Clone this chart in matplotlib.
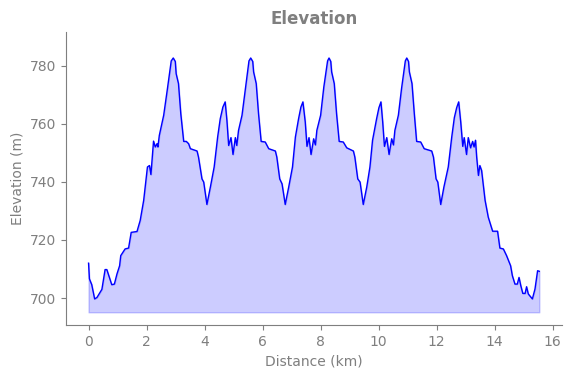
import matplotlib
matplotlib.use("Agg")
import matplotlib.pyplot as plt

# distance (km) and elevation (m)
distance_km = [
    0.0, 0.03, 0.11, 0.21, 0.29, 0.46, 0.57, 0.63, 0.80, 0.89, 0.98, 1.07, 1.11, 1.26, 1.38,
    1.47, 1.67, 1.78, 1.90, 2.03, 2.10, 2.15, 2.18, 2.24, 2.30, 2.36, 2.39, 2.44, 2.59, 2.72,
    2.85, 2.92, 2.99, 3.02, 3.10, 3.18, 3.28, 3.37, 3.45, 3.51, 3.74, 3.79, 3.91, 3.97, 4.08, 4.20,
    4.33, 4.45, 4.54, 4.63, 4.71, 4.77, 4.83, 4.91, 4.98, 5.06, 5.11, 5.17, 5.29, 5.40, 5.53,
    5.59, 5.66, 5.69, 5.78, 5.86, 5.95, 6.09, 6.21, 6.44, 6.49, 6.59, 6.67, 6.78, 6.90, 7.03, 7.13,
    7.24, 7.32, 7.39, 7.47, 7.53, 7.60, 7.67, 7.76, 7.82, 7.87, 8.00, 8.11, 8.24, 8.29, 8.35, 8.38,
    8.47, 8.55, 8.64, 8.78, 8.90, 9.13, 9.18, 9.28, 9.36, 9.47, 9.59, 9.70, 9.79, 9.93, 10.01,
    10.08, 10.14, 10.20, 10.28, 10.36, 10.45, 10.51, 10.56, 10.68, 10.79, 10.92, 10.97, 11.03, 11.06,
    11.15, 11.23, 11.31, 11.45, 11.57, 11.83, 11.89, 11.98, 12.04, 12.14, 12.25, 12.40, 12.52,
    12.61, 12.69, 12.76, 12.83, 12.90, 12.95, 13.03, 13.09, 13.17, 13.24, 13.29, 13.34, 13.38,
    13.44, 13.49, 13.55, 13.67, 13.78, 13.93, 14.10, 14.18, 14.30, 14.41, 14.55, 14.61, 14.70,
    14.78, 14.84, 14.90, 14.97, 15.05, 15.10, 15.16, 15.30, 15.39, 15.48, 15.54,
]
elevation_m = [
    712.0, 706.6, 704.6, 699.7, 700.2, 703.0, 709.8, 709.8, 704.6, 704.8, 708.3, 711.1, 714.6, 716.9, 717.2,
    722.6, 722.9, 726.7, 733.6, 745.1, 745.6, 742.5, 746.2, 754.0, 752.0, 753.1, 752.0, 756.0, 762.9, 772.1,
    781.6, 782.6, 781.4, 777.2, 773.8, 763.4, 753.9, 753.9, 753.1, 751.4, 750.6, 748.5, 741.0, 739.9, 732.2, 738.2,
    745.1, 755.4, 761.7, 765.7, 767.5, 761.1, 752.5, 755.2, 749.4, 755.2, 752.5, 757.7, 762.9, 771.5, 781.6,
    782.6, 781.4, 777.8, 773.8, 763.4, 753.9, 753.7, 751.4, 750.6, 748.5, 741.0, 739.3, 732.2, 738.2, 745.1, 755.4,
    761.7, 765.7, 767.5, 760.6, 752.2, 755.2, 749.4, 754.8, 752.7, 757.7, 762.9, 772.6, 781.6, 782.6, 781.4, 777.8,
    773.8, 763.4, 753.9, 753.7, 751.7, 750.6, 748.5, 741.0, 739.9, 732.2, 738.2, 745.1, 754.3, 761.7, 765.5,
    767.5, 760.6, 752.2, 755.2, 749.4, 754.8, 752.7, 757.7, 762.9, 772.1, 781.6, 782.6, 781.4, 777.8,
    773.8, 763.4, 753.9, 753.7, 751.4, 750.6, 748.5, 741.0, 739.9, 732.2, 738.2, 745.1, 755.4,
    762.1, 765.5, 767.5, 760.6, 752.2, 755.2, 749.4, 755.2, 751.7, 753.9, 752.0, 754.3, 748.5,
    742.2, 745.6, 743.9, 733.6, 727.8, 723.0, 723.0, 717.2, 716.9, 714.6, 711.1, 707.7, 704.8,
    704.8, 707.1, 704.3, 701.6, 701.6, 703.9, 701.4, 699.7, 703.1, 709.4, 709.2,
]
fill_base = min(elevation_m) - 4.6

grey = "#7f7f7f"
fig = plt.figure(figsize=(5.71, 3.78), dpi=100)
ax = fig.add_axes([0.1156, 0.14, 0.8684, 0.775])

ax.plot(distance_km, elevation_m, color="blue", linewidth=1)
ax.fill_between(distance_km, elevation_m, fill_base, color="blue", alpha=0.2)

ax.set_ylim(690.7, 791.5)
ax.set_xticks(range(0, 17, 2))
ax.set_yticks(range(700, 781, 20))

ax.set_title("Elevation", color=grey, fontweight="bold", fontsize=12)
ax.set_xlabel("Distance (km)", color=grey)
ax.set_ylabel("Elevation (m)", color=grey)
ax.tick_params(colors=grey)
for side in ["top", "right"]:
    ax.spines[side].set_visible(False)
for side in ["left", "bottom"]:
    ax.spines[side].set_color(grey)

fig.savefig("out.png", dpi=100)
